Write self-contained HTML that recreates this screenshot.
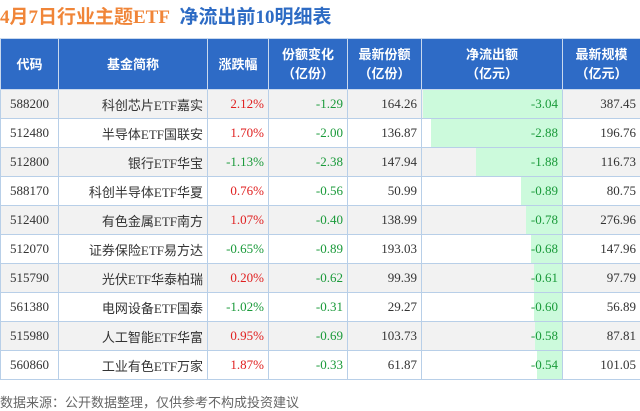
<!DOCTYPE html>
<html><head><meta charset="utf-8"><style>
body{margin:0;width:640px;height:410px;background:#fff;overflow:hidden;position:relative;font-family:"Liberation Sans","Noto Sans CJK SC",sans-serif}
.t{position:absolute;left:0;top:2px;font-size:19px;font-weight:bold;white-space:nowrap;font-family:"Liberation Serif","Noto Sans CJK SC",sans-serif}
table{position:absolute;left:0;top:38px;border-collapse:collapse;table-layout:fixed;width:640px}
td,th{border:1px solid #b8cfe8;padding:0 4px;font-size:13px;white-space:nowrap;overflow:hidden}
th{background:#2e6bc6;color:#fff;height:50px;font-weight:bold;line-height:19px;border-color:#c9d9ee}
td{height:28px;text-align:right;color:#333;font-family:"Liberation Serif","Noto Sans CJK SC",serif;position:relative}
td.c{text-align:center}
tr:nth-child(even) td{background:#f2f2f2}
.r{color:#e02020}.g{color:#1a9a3a}
.bar{position:absolute;right:0;top:0;bottom:0;background:#ccfadc}
.v{position:relative}
.f{position:absolute;left:0;top:392px;font-size:13px;color:#666}
</style></head><body>
<div class="t"><span style="color:#f08538">4月7日行业主题ETF</span>&nbsp;&nbsp;<span style="color:#2d6bc4">净流出前10明细表</span></div>
<table>
<colgroup><col style="width:58px"><col style="width:149px"><col style="width:61px"><col style="width:79px"><col style="width:74px"><col style="width:141px"><col style="width:78px"></colgroup>
<tr><th>代码</th><th>基金简称</th><th>涨跌幅</th><th>份额变化<br>（亿份）</th><th>最新份额<br>（亿份）</th><th>净流出额<br>（亿元）</th><th>最新规模<br>（亿元）</th></tr>
<tr><td class="c">588200</td><td>科创芯片ETF嘉实</td><td class="r">2.12%</td><td class="g">-1.29</td><td>164.26</td><td><div class="bar" style="width:139px"></div><span class="v g">-3.04</span></td><td>387.45</td></tr>
<tr><td class="c">512480</td><td>半导体ETF国联安</td><td class="r">1.70%</td><td class="g">-2.00</td><td>136.87</td><td><div class="bar" style="width:131px"></div><span class="v g">-2.88</span></td><td>196.76</td></tr>
<tr><td class="c">512800</td><td>银行ETF华宝</td><td class="g">-1.13%</td><td class="g">-2.38</td><td>147.94</td><td><div class="bar" style="width:86px"></div><span class="v g">-1.88</span></td><td>116.73</td></tr>
<tr><td class="c">588170</td><td>科创半导体ETF华夏</td><td class="r">0.76%</td><td class="g">-0.56</td><td>50.99</td><td><div class="bar" style="width:41px"></div><span class="v g">-0.89</span></td><td>80.75</td></tr>
<tr><td class="c">512400</td><td>有色金属ETF南方</td><td class="r">1.07%</td><td class="g">-0.40</td><td>138.99</td><td><div class="bar" style="width:36px"></div><span class="v g">-0.78</span></td><td>276.96</td></tr>
<tr><td class="c">512070</td><td>证券保险ETF易方达</td><td class="g">-0.65%</td><td class="g">-0.89</td><td>193.03</td><td><div class="bar" style="width:31px"></div><span class="v g">-0.68</span></td><td>147.96</td></tr>
<tr><td class="c">515790</td><td>光伏ETF华泰柏瑞</td><td class="r">0.20%</td><td class="g">-0.62</td><td>99.39</td><td><div class="bar" style="width:28px"></div><span class="v g">-0.61</span></td><td>97.79</td></tr>
<tr><td class="c">561380</td><td>电网设备ETF国泰</td><td class="g">-1.02%</td><td class="g">-0.31</td><td>29.27</td><td><div class="bar" style="width:28px"></div><span class="v g">-0.60</span></td><td>56.89</td></tr>
<tr><td class="c">515980</td><td>人工智能ETF华富</td><td class="r">0.95%</td><td class="g">-0.69</td><td>103.73</td><td><div class="bar" style="width:27px"></div><span class="v g">-0.58</span></td><td>87.81</td></tr>
<tr><td class="c">560860</td><td>工业有色ETF万家</td><td class="r">1.87%</td><td class="g">-0.33</td><td>61.87</td><td><div class="bar" style="width:25px"></div><span class="v g">-0.54</span></td><td>101.05</td></tr>
</table>
<div class="f">数据来源：公开数据整理，仅供参考不构成投资建议</div>
</body></html>
